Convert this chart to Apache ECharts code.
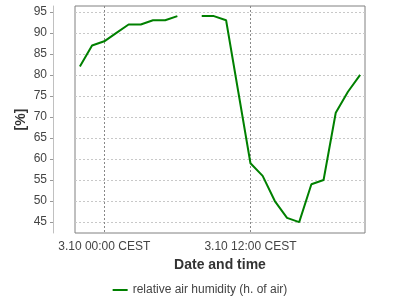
<!DOCTYPE html>
<html>
<head>
<meta charset="utf-8">
<script src="https://cdn.jsdelivr.net/npm/echarts@6/dist/echarts.min.js"></script>
<style>html,body{margin:0;padding:0;background:#fff}#c{width:400px;height:300px}</style>
</head>
<body>
<div id="c"></div>
<script>
// hours relative to 3.10 00:00 CEST
var hours = [-2,-1,0,1,2,3,4,5,6,7,8,9,10,11,12,13,14,15,16,17,18,19,20,21];
var humidity = [82,87,88,90,92,92,93,93,94,null,94,94,93,76,59,56,50,46,45,54,55,71,76,80];
var xTickValues = [0, 12];
var xTickLabels = {0: '3.10 00:00 CEST', 12: '3.10 12:00 CEST'};
var yTickValues = [45,50,55,60,65,70,75,80,85,90,95];
var seriesName = 'relative air humidity (h. of air)';

var font = 'Liberation Sans, Arial, sans-serif';
var chart = echarts.init(document.getElementById('c'), null, {renderer: 'canvas'});
chart.setOption({
  animation: false,
  textStyle: {fontFamily: font},
  grid: {left: 75, right: 35, top: 6, bottom: 67, show: true, borderColor: '#808080', borderWidth: 1, backgroundColor: 'transparent'},
  legend: {
    bottom: -1, left: 'center', itemWidth: 15, itemHeight: 2, itemGap: 10,
    icon: 'rect',
    textStyle: {fontFamily: font, fontSize: 12, color: '#444'},
    data: [{name: seriesName}]
  },
  xAxis: {
    type: 'value', min: -2.4, max: 21.4,
    name: 'Date and time', nameLocation: 'middle', nameGap: 23,
    nameTextStyle: {fontFamily: font, fontSize: 14, fontWeight: 'bold', color: '#333'},
    axisLine: {show: false, onZero: false},
    axisTick: {show: false, customValues: xTickValues},
    axisLabel: {customValues: xTickValues, fontFamily: font, fontSize: 12, color: '#444', margin: 8,
      formatter: function (v) { return xTickLabels[v] || ''; }},
    splitLine: {show: true, lineStyle: {color: '#888', type: [2, 2], width: 1}}
  },
  yAxis: {
    type: 'value', min: 42.4, max: 96.4, offset: 22,
    name: '[%]', nameLocation: 'middle', nameGap: 25, nameRotate: 90, nameMoveOverlap: false,
    nameTextStyle: {fontFamily: font, fontSize: 14, fontWeight: 'bold', color: '#333'},
    axisLine: {show: true, onZero: false, lineStyle: {color: '#c0c0c0'}},
    axisTick: {show: true, length: 3, customValues: yTickValues, lineStyle: {color: '#999'}},
    axisLabel: {customValues: yTickValues, fontFamily: font, fontSize: 12, color: '#444', margin: 6},
    splitLine: {show: true, lineStyle: {color: '#c8c8c8', type: [2, 2], width: 1}}
  },
  series: [{
    name: seriesName, type: 'line',
    data: hours.map(function (h, i) { return [h, humidity[i]]; }),
    showSymbol: false, symbol: 'none', connectNulls: false,
    lineStyle: {color: '#008000', width: 2},
    itemStyle: {color: '#008000'}
  }]
});
</script>
</body>
</html>
